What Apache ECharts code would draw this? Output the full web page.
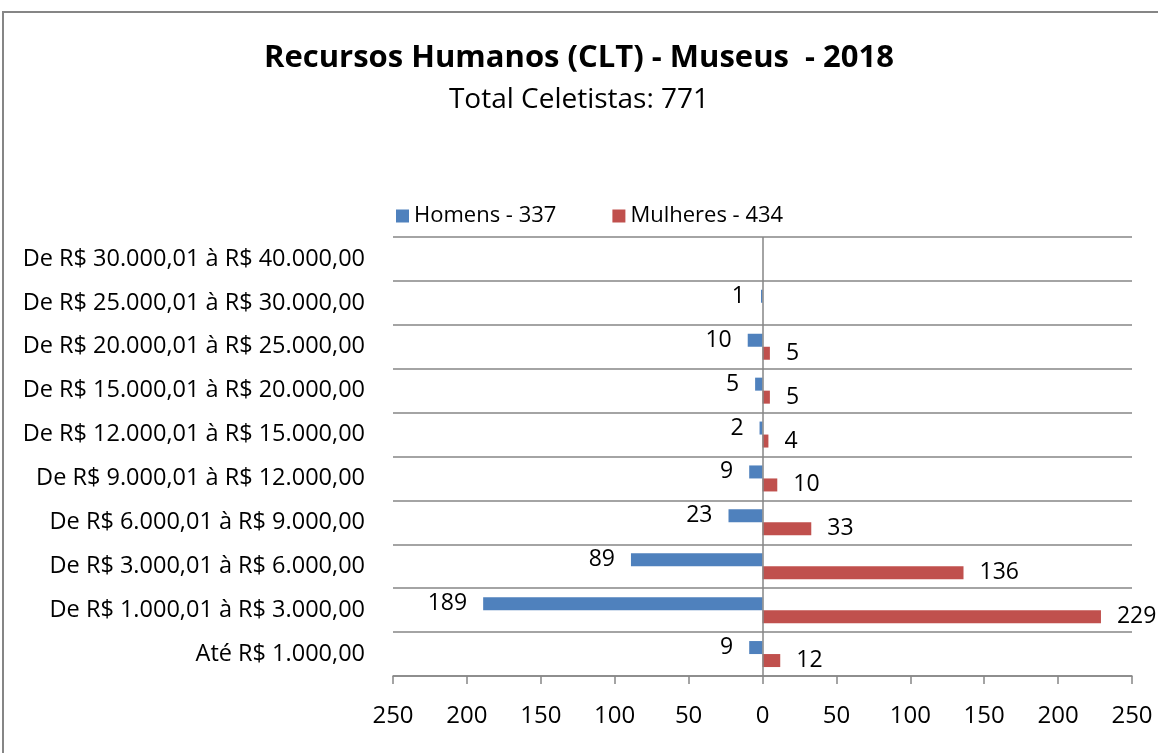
<!DOCTYPE html>
<html lang="pt">
<head>
<meta charset="UTF-8">
<title>Recursos Humanos (CLT) - Museus - 2018</title>
</head>
<body style="margin:0;background:#fff;">
<div id="main" style="width:1158px;height:753px;"></div>

<script src="https://cdn.jsdelivr.net/npm/echarts@6/dist/echarts.min.js"></script>
<script>
// faixas salariais, de baixo para cima
var faixas = [
    'Até R$ 1.000,00',
    'De R$ 1.000,01 à R$ 3.000,00',
    'De R$ 3.000,01 à R$ 6.000,00',
    'De R$ 6.000,01 à R$ 9.000,00',
    'De R$ 9.000,01 à R$ 12.000,00',
    'De R$ 12.000,01 à R$ 15.000,00',
    'De R$ 15.000,01 à R$ 20.000,00',
    'De R$ 20.000,01 à R$ 25.000,00',
    'De R$ 25.000,01 à R$ 30.000,00',
    'De R$ 30.000,01 à R$ 40.000,00'
];
var homens = [9, 189, 89, 23, 9, 2, 5, 10, 1, null];
var mulheres = [12, 229, 136, 33, 10, 4, 5, 5, null, null];

var fonte = '"Open Sans", "Liberation Sans", sans-serif';
var cinza = '#868686';

var myChart = echarts.init(document.getElementById('main'));

option = {
    animation: false,
    textStyle: { fontFamily: fonte },
    title: {
        text: 'Recursos Humanos (CLT) - Museus  - 2018',
        subtext: 'Total Celetistas: 771',
        left: 'center',
        top: 38,
        itemGap: 12,
        textStyle: { fontSize: 31, fontWeight: 'bold', color: '#000', fontFamily: fonte },
        subtextStyle: { fontSize: 28, color: '#000', fontFamily: fonte }
    },
    legend: {
        left: 391,
        top: 200,
        itemWidth: 13,
        itemHeight: 13,
        itemGap: 56,
        icon: 'rect',
        textStyle: { fontSize: 22, color: '#000', fontFamily: fonte },
        data: ['Homens - 337', 'Mulheres - 434']
    },
    graphic: [{
        type: 'rect',
        shape: { x: 3, y: 12, width: 1200, height: 800 },
        style: { fill: 'none', stroke: cinza, lineWidth: 2 },
        silent: true
    }],
    grid: {
        left: 393,
        right: 26,
        top: 237,
        bottom: 77
    },
    xAxis: {
        type: 'value',
        min: -250,
        max: 250,
        interval: 50,
        axisLine: { show: true, lineStyle: { color: cinza, width: 1.5 } },
        axisTick: { show: true, length: 8, lineStyle: { color: cinza, width: 1.5 } },
        splitLine: { show: false },
        axisLabel: {
            fontSize: 24,
            color: '#000',
            margin: 28,
            formatter: function (v) { return Math.abs(v); }
        }
    },
    yAxis: {
        type: 'category',
        data: faixas,
        axisLine: { show: false },
        axisTick: { show: false },
        splitLine: { show: true, lineStyle: { color: cinza, width: 1.5 } },
        axisLabel: { fontSize: 23.5, color: '#000', margin: 28 }
    },
    series: [
        {
            name: 'Homens - 337',
            type: 'bar',
            barWidth: 13,
            barGap: '0%',
            itemStyle: { color: '#4F81BD' },
            label: {
                show: true,
                position: 'left',
                distance: 16,
                fontSize: 23,
                color: '#000',
                formatter: function (p) { return Math.abs(p.value); }
            },
            data: homens.map(function (v) { return v == null ? null : -v; }),
            markLine: {
                silent: true,
                symbol: 'none',
                label: { show: false },
                lineStyle: { color: cinza, width: 1.5, type: 'solid' },
                data: [{ xAxis: 0 }]
            }
        },
        {
            name: 'Mulheres - 434',
            type: 'bar',
            barWidth: 13,
            barGap: '0%',
            itemStyle: { color: '#C0504D' },
            label: {
                show: true,
                position: 'right',
                distance: 16,
                fontSize: 23,
                color: '#000'
            },
            data: mulheres
        }
    ]
};

myChart.setOption(option);
</script>
</body>
</html>
